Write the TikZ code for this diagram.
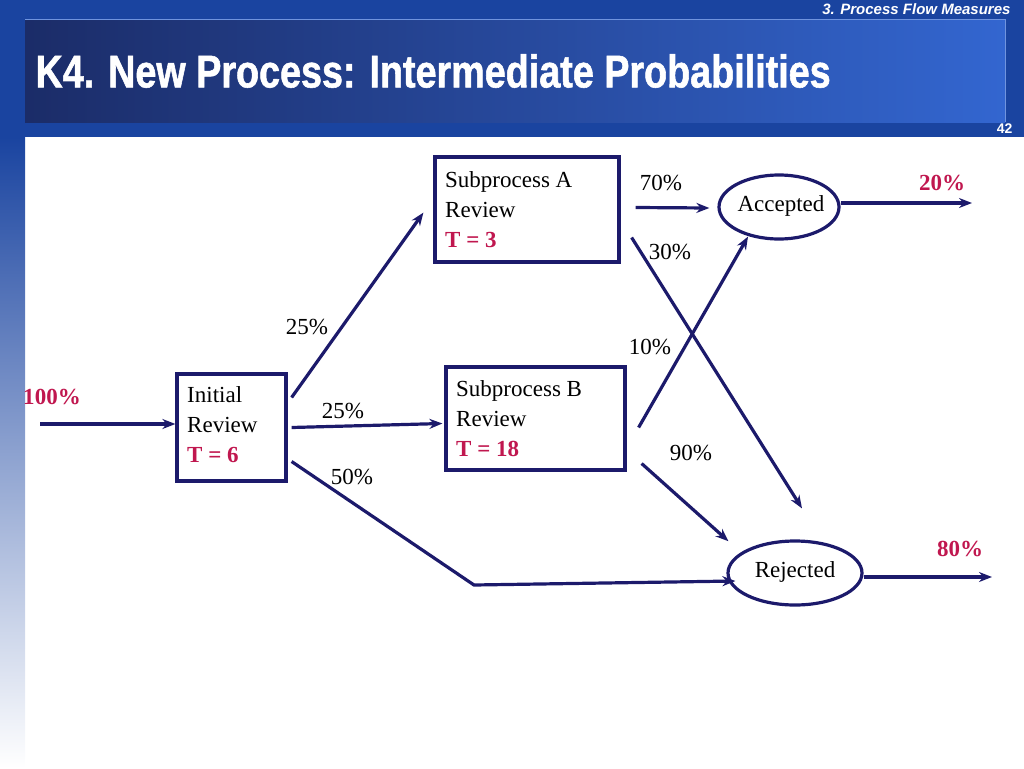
\documentclass[tikz,border=0pt]{standalone}
\usepackage{fontspec}
\setmainfont{Liberation Serif}
\newfontfamily\headfont{Liberation Sans}
\newfontfamily\titlefont[FakeStretch=0.82,FakeBold=1.2]{Liberation Sans Bold}
\usetikzlibrary{positioning,calc,shapes.geometric,arrows.meta}
\definecolor{navy}{HTML}{1C1A6B}
\definecolor{crim}{HTML}{C0174F}
\definecolor{band}{HTML}{1A44A0}
\definecolor{dusk}{HTML}{1B2C68}
\definecolor{sky}{HTML}{3366D0}
\tikzset{
  box/.style={draw=navy,line width=3.2pt},
  outcome/.style={ellipse,draw=navy,line width=3.2pt},
  flow/.style={-{Stealth[length=13pt,width=10pt]},draw=navy,line width=3.2pt},
  lbl/.style={font=\fontsize{23}{27}\selectfont,inner sep=0pt},
  hot/.style={lbl,text=crim,font=\fontsize{23}{27}\selectfont\bfseries}
}
\begin{document}
\begin{tikzpicture}[x=1pt,y=-1pt]
    \useasboundingbox (0,0) rectangle (1024,768);
    % slide background
    \fill[band] (0,0) rectangle (1024,137);
    \shade[top color=band,bottom color=white] (0,137) rectangle (25,768);
    \shade[left color=dusk,right color=sky] (25,20) rectangle (1005,122);
    \draw[sky!70!white,line width=1pt] (25,20) -- (1005,20) -- (1005,122);
    \node[anchor=east,text=white,font=\headfont\itshape\bfseries\fontsize{15}{17}\selectfont] (sect) at (1014,9) {3. Process Flow Measures};
    \node[anchor=west,text=white,font=\titlefont\fontsize{46}{50}\selectfont] (title) at (32,71) {K4. New Process: Intermediate Probabilities};
    \node[anchor=east,text=white,font=\headfont\bfseries\fontsize{14}{16}\selectfont] (page) at (1016,129) {42};

    % process boxes
    \node[box,minimum width=109pt,minimum height=107pt] (init) at (231.5,427.5) {};
    \node[box,minimum width=184pt,minimum height=105pt] (subA) at (527,209.5) {};
    \node[box,minimum width=179pt,minimum height=103pt] (subB) at (535.5,418.5) {};
    \node[outcome,minimum width=120pt,minimum height=64pt] (acc) at (779,207) {};
    \node[outcome,minimum width=134pt,minimum height=64pt] (rej) at (795,573) {};
    \node[lbl] at ($(acc)+(2,-1)$) {Accepted};
    \node[lbl] at ($(rej)+(0,-1)$) {Rejected};

    \node[lbl,anchor=west,align=left] (initT) at (187,425) {Initial\\[3pt]Review\\[3pt]\textcolor{crim}{\bfseries T = 6}};
    \node[lbl,anchor=west,align=left] (subAT) at (445,210) {Subprocess A\\[3pt]Review\\[3pt]\textcolor{crim}{\bfseries T = 3}};
    \node[lbl,anchor=west,align=left] (subBT) at (456,419) {Subprocess B\\[3pt]Review\\[3pt]\textcolor{crim}{\bfseries T = 18}};

    % end points of the flows
    \coordinate (src) at (40,424);
    \coordinate (accOut) at (972,203);
    \coordinate (rejOut) at (992,577);
    \coordinate (bend) at (474,585);

    \draw[flow] (src) -- (init.west |- src);
    \draw[flow] ($(init.east)+(4,-30)$) -- ($(subA.south west)+(-10,-51)$);
    \draw[flow] ($(init.east)+(4,0)$) -- ($(subB.west)+(-2,5)$);
    \draw[flow] ($(init.east)+(4,34)$) -- (bend) -- ($(rej.west)+(9,8)$);
    \draw[flow] ($(subA.east)+(15,-2)$) -- ($(acc.west)+(-8,1)$);
    \draw[flow] ($(subA.east)+(11,28)$) -- ($(rej.north)+(7,-31)$);
    \draw[flow] ($(subB.east)+(12,9)$) -- ($(acc.south)+(-31,-4)$);
    \draw[flow] ($(subB.east)+(15,45)$) -- ($(rej.north west)+(-18,-8)$);
    \draw[flow] ($(acc.east)+(0,-4)$) -- (accOut);
    \draw[flow] ($(rej.east)+(0,4)$) -- (rejOut);

    % probabilities
    \node[hot] (p100) at (52,397) {100\%};
    \node[lbl] (p25a) at (307,327) {25\%};
    \node[lbl] (p25b) at (343,411) {25\%};
    \node[lbl] (p50) at (352,477) {50\%};
    \node[lbl] (p70) at (661,183) {70\%};
    \node[lbl] (p30) at (670,252) {30\%};
    \node[lbl] (p10) at (650,347) {10\%};
    \node[lbl] (p90) at (691,453) {90\%};
    \node[hot] (p20) at (942,183) {20\%};
    \node[hot] (p80) at (960,549) {80\%};
\end{tikzpicture}
\end{document}
